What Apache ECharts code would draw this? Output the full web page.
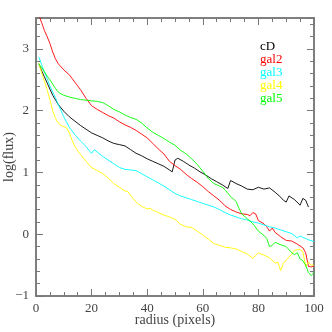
<!DOCTYPE html>
<html>
<head>
<meta charset="utf-8">
<script src="https://cdn.jsdelivr.net/npm/echarts@6/dist/echarts.min.js"></script>
<style>
  html, body { margin: 0; padding: 0; background: #fff; }
  #chart { width: 332px; height: 332px; }
</style>
</head>
<body>
<div id="chart"></div>
<script>
// profile data: [radius, log(flux)]
const seriesNames = ['cD', 'gal2', 'gal3', 'gal4', 'gal5']
const seriesColors = ['#000000', '#ff0000', '#00ffff', '#ffff00', '#00ff00']

const cD = [
  [1, 2.76], [2, 2.65], [3, 2.55], [4, 2.45], [5, 2.35], [6, 2.25], [8, 2.10], [10, 1.99],
  [12, 1.90], [14, 1.83], [16, 1.76], [18, 1.70], [20, 1.64], [22, 1.60], [24, 1.56],
  [26, 1.51], [28, 1.47], [30, 1.45], [32, 1.43], [34, 1.37], [36, 1.31], [38, 1.27],
  [40, 1.22], [42, 1.18], [44, 1.14], [46, 1.10], [48, 1.04], [49, 1.01], [50, 1.20],
  [51, 1.23], [53, 1.18], [55, 1.12], [57, 1.07], [59, 1.01], [61, 0.96], [63, 0.90],
  [65, 0.85], [67, 0.80], [69, 0.74], [70, 0.87], [72, 0.82], [74, 0.78], [76, 0.73],
  [78, 0.72], [80, 0.76], [82, 0.73], [84, 0.75], [86, 0.68], [88, 0.60], [89, 0.55],
  [90, 0.52], [91, 0.62], [93, 0.56], [95, 0.47], [96, 0.58], [97, 0.55], [98, 0.44]
]

const gal2 = [
  [1, 3.55], [2, 3.43], [3, 3.30], [4, 3.20], [5, 3.09], [6, 2.95], [7, 2.84], [8, 2.76],
  [10, 2.66], [12, 2.58], [14, 2.46], [16, 2.34], [18, 2.20], [20, 2.08], [22, 2.02],
  [24, 1.97], [26, 1.92], [28, 1.88], [30, 1.82], [32, 1.77], [34, 1.73], [36, 1.68],
  [38, 1.62], [40, 1.56], [42, 1.47], [44, 1.38], [46, 1.30], [48, 1.18], [50, 1.11],
  [52, 1.05], [54, 0.97], [56, 0.90], [58, 0.84], [60, 0.77], [62, 0.69], [64, 0.62],
  [66, 0.55], [68, 0.46], [70, 0.40], [72, 0.36], [74, 0.33], [76, 0.32], [77, 0.30],
  [78, 0.35], [79, 0.33], [80, 0.22], [82, 0.17], [83, 0.12], [84, 0.05], [85, 0.10],
  [86, 0.03], [88, -0.04], [90, -0.10], [92, -0.11], [94, -0.16], [96, -0.22],
  [97, -0.30], [98, -0.52], [99, -0.53], [100, -0.51]
]

const gal3 = [
  [1, 2.87], [2, 2.75], [3, 2.63], [4, 2.52], [5, 2.40], [6, 2.30], [7, 2.21], [8, 2.10],
  [10, 1.90], [12, 1.73], [14, 1.61], [16, 1.51], [18, 1.42], [19, 1.36], [20, 1.31],
  [21, 1.37], [22, 1.33], [24, 1.26], [26, 1.20], [28, 1.14], [30, 1.08], [32, 1.05],
  [34, 1.04], [36, 1.03], [38, 0.98], [40, 0.93], [42, 0.88], [44, 0.83], [46, 0.78],
  [48, 0.72], [50, 0.66], [52, 0.62], [54, 0.59], [56, 0.56], [58, 0.53], [60, 0.50],
  [62, 0.47], [64, 0.44], [66, 0.40], [68, 0.35], [70, 0.31], [72, 0.28], [74, 0.25],
  [76, 0.23], [78, 0.20], [80, 0.18], [82, 0.15], [84, 0.12], [86, 0.10], [88, 0.07],
  [90, 0.04], [92, 0.01], [94, -0.06], [95, -0.03], [96, -0.05], [98, -0.09], [100, -0.12]
]

const gal4 = [
  [1, 2.77], [2, 2.62], [3, 2.48], [4, 2.34], [5, 2.18], [6, 2.00], [7, 1.88], [8, 1.80],
  [9, 1.76], [10, 1.74], [11, 1.72], [12, 1.64], [13, 1.52], [14, 1.42], [15, 1.35],
  [16, 1.29], [18, 1.18], [20, 1.08], [22, 1.03], [24, 0.98], [26, 0.91], [28, 0.82],
  [30, 0.76], [32, 0.70], [33, 0.69], [34, 0.63], [36, 0.52], [38, 0.45], [40, 0.41],
  [41, 0.42], [42, 0.39], [44, 0.35], [46, 0.31], [48, 0.28], [50, 0.24], [52, 0.16],
  [54, 0.12], [56, 0.11], [58, 0.05], [60, -0.01], [62, -0.08], [64, -0.15], [66, -0.18],
  [68, -0.21], [70, -0.22], [72, -0.24], [74, -0.28], [76, -0.32], [78, -0.39],
  [80, -0.30], [82, -0.34], [84, -0.38], [86, -0.47], [87, -0.45], [88, -0.59],
  [89, -0.47], [90, -0.42], [91, -0.37], [92, -0.32], [93, -0.26], [94, -0.25],
  [95, -0.25], [96, -0.28], [97, -0.52], [98, -0.45], [99, -0.50], [100, -0.50]
]

const gal5 = [
  [1, 2.76], [2, 2.70], [3, 2.63], [4, 2.56], [5, 2.50], [6, 2.43], [7, 2.36], [8, 2.30],
  [9, 2.27], [10, 2.25], [12, 2.22], [14, 2.20], [16, 2.18], [18, 2.17], [20, 2.16],
  [22, 2.15], [24, 2.13], [26, 2.08], [28, 2.02], [30, 1.98], [32, 1.93], [34, 1.89],
  [36, 1.86], [38, 1.80], [40, 1.72], [42, 1.65], [44, 1.60], [46, 1.55], [48, 1.49],
  [50, 1.44], [52, 1.36], [54, 1.30], [56, 1.22], [58, 1.13], [60, 1.02], [62, 0.90],
  [64, 0.82], [66, 0.78], [67, 0.76], [68, 0.72], [70, 0.61], [72, 0.53], [73, 0.42],
  [74, 0.33], [76, 0.25], [78, 0.17], [80, 0.05], [82, -0.02], [83, -0.07], [84, -0.20],
  [85, -0.18], [86, -0.13], [88, -0.17], [90, -0.20], [92, -0.30], [93, -0.33],
  [94, -0.30], [95, -0.40], [96, -0.43], [97, -0.50], [98, -0.62], [99, -0.67], [100, -0.62]
]

const allSeries = [cD, gal2, gal3, gal4, gal5]

const FONT = 'Liberation Serif'
const AXIS_COLOR = '#777'
const TEXT_COLOR = '#444'

const chart = echarts.init(document.getElementById('chart'), null, { renderer: 'canvas' })

// plain frame axis: ticks inside, no labels
const frameX = (position, interval, len) => ({
  type: 'value', position, min: 0, max: 100, interval,
  axisLine: { show: true, onZero: false, lineStyle: { color: AXIS_COLOR, width: 1.5 } },
  axisTick: { show: true, inside: true, length: len, lineStyle: { color: AXIS_COLOR } },
  axisLabel: { show: false },
  splitLine: { show: false }
})
const frameY = (position, interval, len) => ({
  type: 'value', position, min: -1, max: 3.5, interval,
  axisLine: { show: true, onZero: false, lineStyle: { color: AXIS_COLOR, width: 1.5 } },
  axisTick: { show: true, inside: true, length: len, lineStyle: { color: AXIS_COLOR } },
  axisLabel: { show: false },
  splitLine: { show: false }
})

const xMain = frameX('bottom', 20, 7)
xMain.axisLabel = { show: true, color: TEXT_COLOR, fontFamily: FONT, fontSize: 13, margin: 6 }
xMain.name = 'radius (pixels)'
xMain.nameLocation = 'middle'
xMain.nameGap = 17
xMain.nameMoveOverlap = false
xMain.nameTextStyle = { color: TEXT_COLOR, fontFamily: FONT, fontSize: 14 }

const yMain = frameY('left', 1, 7)
yMain.axisLabel = {
  show: true, color: TEXT_COLOR, fontFamily: FONT, fontSize: 13, margin: 7,
  formatter: v => (Number.isInteger(v) ? String(v).replace('-', '\u2212') : '')
}
yMain.name = 'log(flux)'
yMain.nameLocation = 'middle'
yMain.nameGap = 20
yMain.nameMoveOverlap = false
yMain.nameTextStyle = { color: TEXT_COLOR, fontFamily: FONT, fontSize: 14 }

const option = {
  backgroundColor: '#fff',
  animation: false,
  grid: { left: 36, top: 18, right: 18, bottom: 36, containLabel: false, outerBoundsMode: 'none' },
  xAxis: [
    xMain,
    frameX('bottom', 5, 4),
    frameX('top', 20, 7),
    frameX('top', 5, 4)
  ],
  yAxis: [
    yMain,
    frameY('left', 0.2, 4),
    frameY('right', 1, 7),
    frameY('right', 0.2, 4)
  ],
  legend: {
    orient: 'vertical',
    left: 250,
    top: 35,
    itemWidth: 0,
    itemHeight: 0,
    itemGap: 0,
    icon: 'none',
    selectedMode: false,
    data: seriesNames.map((n, i) => ({
      name: n,
      textStyle: { color: seriesColors[i], fontFamily: FONT, fontSize: 13, lineHeight: 12.7 }
    }))
  },
  series: seriesNames.map((n, i) => ({
    name: n,
    type: 'line',
    xAxisIndex: 0,
    yAxisIndex: 0,
    data: allSeries[i],
    showSymbol: false,
    symbol: 'none',
    clip: true,
    lineStyle: { color: seriesColors[i], width: 0.9 },
    itemStyle: { color: seriesColors[i] }
  }))
}

chart.setOption(option)
</script>
</body>
</html>
